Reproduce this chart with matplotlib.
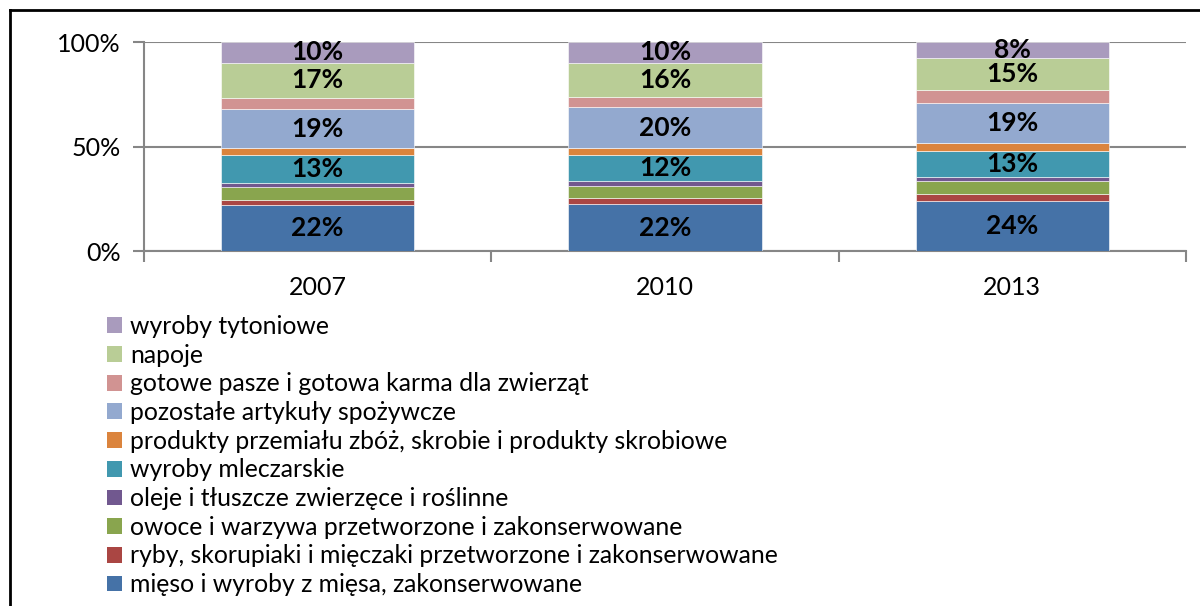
import matplotlib
matplotlib.use("Agg")
import matplotlib.pyplot as plt
from matplotlib.patches import Patch
from matplotlib.lines import Line2D
import numpy as np

plt.rcParams['font.family'] = ['Lato', 'DejaVu Sans']

# --- Data (shares in %) ---
years = ['2007', '2010', '2013']

series_names = [
    'mięso i wyroby z mięsa, zakonserwowane',
    'ryby, skorupiaki i mięczaki przetworzone i zakonserwowane',
    'owoce i warzywa przetworzone i zakonserwowane',
    'oleje i tłuszcze zwierzęce i roślinne',
    'wyroby mleczarskie',
    'produkty przemiału zbóż, skrobie i produkty skrobiowe',
    'pozostałe artykuły spożywcze',
    'gotowe pasze i gotowa karma dla zwierząt',
    'napoje',
    'wyroby tytoniowe',
]

mieso = [22.0, 22.4, 23.9]
ryby = [2.4, 3.0, 3.5]
owoce = [6.3, 5.7, 5.9]
oleje = [2.0, 2.5, 1.9]
mleczarskie = [13.0, 12.4, 12.6]
zboza = [3.4, 3.1, 3.7]
pozostale = [19.0, 19.6, 19.1]
pasze = [5.1, 5.0, 6.6]
napoje = [16.8, 16.3, 15.0]
tytoniowe = [10.0, 10.0, 7.8]

series_values = [mieso, ryby, owoce, oleje, mleczarskie, zboza,
                 pozostale, pasze, napoje, tytoniowe]

colors = ['#4572A7', '#AA4643', '#89A54E', '#71588F', '#4198AF',
          '#DB843D', '#93A9CF', '#D19392', '#B9CD96', '#A99BBD']

# which series carry data labels
labelled = [True, False, False, False, True, False, True, False, True, True]

GRAY = '#868686'

fig = plt.figure(figsize=(12, 6.06), dpi=100)
ax = fig.add_axes([144 / 1200, 1 - 251 / 606, 1042 / 1200, 209 / 606])

x = np.arange(len(years))
bottom = np.zeros(len(years))
for vals, col, lab in zip(series_values, colors, labelled):
    bars = ax.bar(x, vals, width=0.556, bottom=bottom, color=col,
                  edgecolor='white', linewidth=0.4, zorder=3)
    if lab:
        ax.bar_label(bars, labels=[f'{round(v)}%' for v in vals],
                     label_type='center', fontsize=19, fontweight='bold',
                     color='black', zorder=4)
    bottom += np.array(vals)

ax.set_xlim(-0.5, len(years) - 0.5)
ax.set_ylim(0, 100)
ax.set_yticks([0, 50, 100])
ax.set_yticklabels(['0%', '50%', '100%'], fontsize=18)
ax.set_xticks(x)
ax.set_xticklabels(years, fontsize=18)
ax.set_xticks(np.arange(-0.5, len(years)), minor=True)

ax.tick_params(axis='y', direction='out', length=8, width=1.5, color=GRAY, pad=9)
ax.tick_params(axis='x', which='major', length=0, pad=18)
ax.tick_params(axis='x', which='minor', direction='out', length=8, width=1.5, color=GRAY)

ax.yaxis.grid(True, color=GRAY, linewidth=1.5, zorder=0)
for s in ['top', 'right']:
    ax.spines[s].set_visible(False)
for s in ['left', 'bottom']:
    ax.spines[s].set_color(GRAY)
    ax.spines[s].set_linewidth(1.5)

# legend, tobacco on top as in Excel
handles = [Patch(facecolor=c, edgecolor='none') for c in colors][::-1]
fig.legend(handles, series_names[::-1], loc='upper left',
           bbox_to_anchor=(107 / 1200, 1 - 315 / 606),
           frameon=False, fontsize=17.8, handlelength=0.6, handleheight=0.6,
           handletextpad=0.33, labelspacing=0.23, borderpad=0, borderaxespad=0)

# outer chart border (left and top edges visible)
fig.add_artist(Line2D([10 / 1200, 10 / 1200], [0, 1 - 9.5 / 606],
                      transform=fig.transFigure, color='black', linewidth=2))
fig.add_artist(Line2D([10 / 1200, 1], [1 - 9.5 / 606, 1 - 9.5 / 606],
                      transform=fig.transFigure, color='black', linewidth=2))

fig.savefig('out.png', dpi=100)
